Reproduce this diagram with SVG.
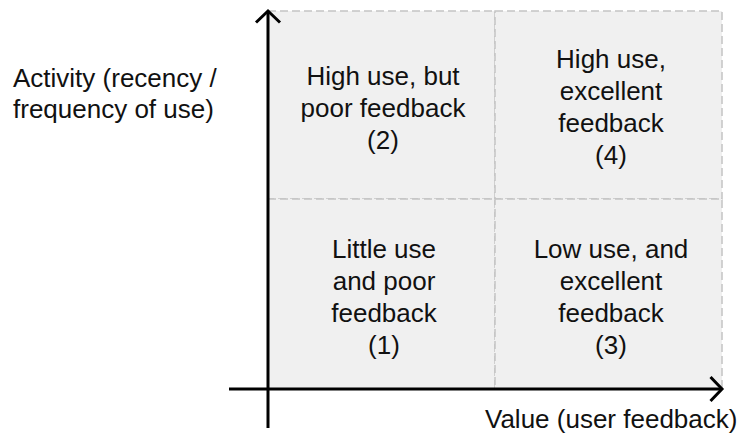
<svg xmlns="http://www.w3.org/2000/svg" width="742" height="441" viewBox="0 0 742 441">
<defs>
<style>
.cell{fill:#f0f0f0;stroke:#c4c4c4;stroke-width:1.5;stroke-dasharray:8 4}
.t{font-family:"Liberation Sans",Arial,sans-serif;font-size:26px;fill:#111;text-anchor:middle}
.lab{font-family:"Liberation Sans",Arial,sans-serif;font-size:26px;fill:#111}
.axis{stroke:#000;stroke-width:3;fill:none}
</style>
<marker id="arr" markerUnits="userSpaceOnUse" markerWidth="30" markerHeight="30" viewBox="-15 -15 30 30" refX="0" refY="0" orient="auto">
<path d="M-11.5,-12 L0,0 L-11.5,12" fill="none" stroke="#000" stroke-width="3"/>
</marker>
</defs>
<rect width="742" height="441" fill="#fff"/>
<g id="cell2">
<rect class="cell" x="268" y="11" width="227" height="188"/>
<text class="t" x="383" y="85">High use, but</text>
<text class="t" x="383" y="117">poor feedback</text>
<text class="t" x="383" y="149">(2)</text>
</g>
<g id="cell4">
<rect class="cell" x="495" y="11" width="227" height="188"/>
<text class="t" x="611" y="68">High use,</text>
<text class="t" x="611" y="100">excellent</text>
<text class="t" x="611" y="132">feedback</text>
<text class="t" x="611" y="164">(4)</text>
</g>
<g id="cell1">
<rect class="cell" x="268" y="199" width="227" height="190"/>
<text class="t" x="384" y="258">Little use</text>
<text class="t" x="384" y="290">and poor</text>
<text class="t" x="384" y="322">feedback</text>
<text class="t" x="384" y="354">(1)</text>
</g>
<g id="cell3">
<rect class="cell" x="495" y="199" width="227" height="190"/>
<text class="t" x="611" y="258">Low use, and</text>
<text class="t" x="611" y="290">excellent</text>
<text class="t" x="611" y="322">feedback</text>
<text class="t" x="611" y="354">(3)</text>
</g>
<g id="connectors">
<line class="axis" x1="268" y1="428" x2="268" y2="11" marker-end="url(#arr)"/>
<line class="axis" x1="229" y1="389" x2="722" y2="389" marker-end="url(#arr)"/>
</g>
<g id="y-label">
<text class="lab" x="13" y="87">Activity (recency /</text>
<text class="lab" x="13" y="118">frequency of use)</text>
</g>
<g id="x-label">
<text class="lab" x="485" y="428">Value (user feedback)</text>
</g>
</svg>
